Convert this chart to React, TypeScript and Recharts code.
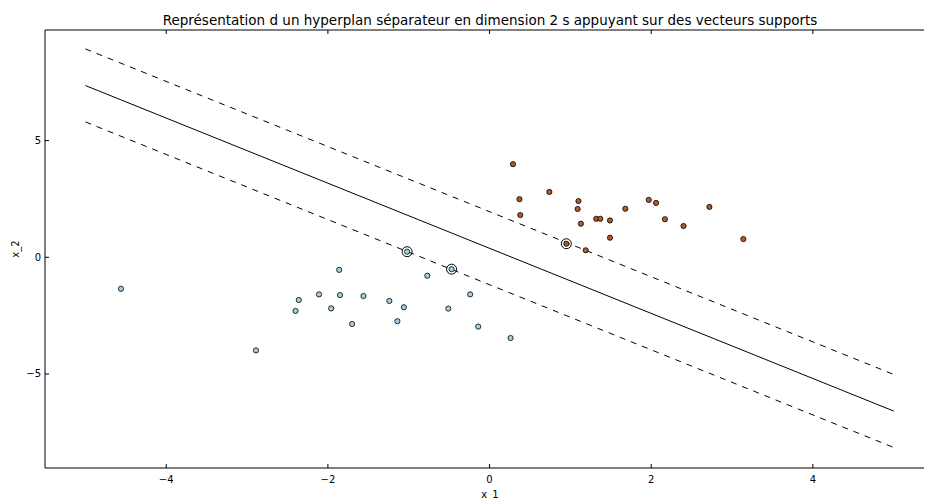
import React from 'react';
import {
  ComposedChart,
  Scatter,
  Line,
  XAxis,
  YAxis,
} from 'recharts';

// classe 0 (bleu)
const classe0X = [-4.56, -2.89, -1.86, -2.36, -2.40, -2.11, -1.85, -1.96, -1.56, -1.70,
  -1.24, -1.06, -1.14, -1.02, -0.47, -0.77, -0.24, -0.51, -0.14, 0.26];
const classe0Y = [-1.35, -3.99, -0.54, -1.83, -2.30, -1.59, -1.62, -2.19, -1.66, -2.86,
  -1.87, -2.14, -2.74, 0.24, -0.51, -0.79, -1.59, -2.20, -2.97, -3.46];

// classe 1 (marron)
const classe1X = [0.29, 0.37, 0.38, 0.74, 1.10, 1.09, 1.13, 0.95, 1.19, 1.32,
  1.37, 1.49, 1.49, 1.68, 1.97, 2.06, 2.17, 2.40, 2.72, 3.14];
const classe1Y = [3.99, 2.49, 1.81, 2.80, 2.41, 2.07, 1.44, 0.58, 0.30, 1.65,
  1.65, 1.58, 0.84, 2.08, 2.46, 2.33, 1.63, 1.34, 2.16, 0.78];

// vecteurs supports
const supportX = [-1.02, -0.47, 0.95];
const supportY = [0.24, -0.51, 0.58];

// hyperplan et marges
const droiteX = [-5, 5];
const hyperplanY = [7.36, -6.59];
const margeHautY = [8.93, -5.02];
const margeBasY = [5.80, -8.15];

const xTicks = [-4, -2, 0, 2, 4];
const yTicks = [-5, 0, 5];

const zip = (xs: number[], ys: number[]) => xs.map((x, i) => ({ x, y: ys[i] }));

const classe0 = zip(classe0X, classe0Y);
const classe1 = zip(classe1X, classe1Y);
const supports = zip(supportX, supportY);
const hyperplan = zip(droiteX, hyperplanY);
const margeHaut = zip(droiteX, margeHautY);
const margeBas = zip(droiteX, margeBasY);

const FONT = 'DejaVu Sans';
const fmt = (v: number) => (v < 0 ? '\u2212' + Math.abs(v) : String(v));

const BottomTick = (props: any) => {
  const { x, y, payload } = props;
  return (
    <g>
      <line x1={x} y1={y} x2={x} y2={y - 4} stroke="#000" />
      <text x={x} y={y + 15} textAnchor="middle" fontSize={10} fontFamily={FONT} fill="#000">
        {fmt(payload.value)}
      </text>
    </g>
  );
};

const TopTick = (props: any) => {
  const { x, y } = props;
  return <line x1={x} y1={y} x2={x} y2={y + 4} stroke="#000" />;
};

const LeftTick = (props: any) => {
  const { x, y, payload } = props;
  return (
    <g>
      <line x1={x} y1={y} x2={x + 4} y2={y} stroke="#000" />
      <text x={x - 4} y={y + 3.5} textAnchor="end" fontSize={10} fontFamily={FONT} fill="#000">
        {fmt(payload.value)}
      </text>
    </g>
  );
};

const point = (color: string) => (props: any) => (
  <circle cx={props.cx} cy={props.cy} r={2.6} fill={color} stroke="#000" strokeWidth={0.8} />
);

const anneau = (props: any) => (
  <circle cx={props.cx} cy={props.cy} r={5} fill="none" stroke="#000" strokeWidth={1} />
);

const App: React.FC = () => {
  return (
    <div style={{ position: 'absolute', left: 0, top: 0, width: 925, height: 499, background: '#fff' }}>
      <ComposedChart
        width={925}
        height={499}
        margin={{ top: 29, right: 1, bottom: 30, left: 44 }}
      >
        <XAxis
          dataKey="x"
          type="number"
          domain={[-5.5, 5.375]}
          ticks={xTicks}
          allowDataOverflow
          height={1}
          tickSize={0}
          tickMargin={0}
          tick={<BottomTick />}
          axisLine={{ stroke: '#000' }}
          tickLine={false}
        />
        <XAxis
          xAxisId="top"
          orientation="top"
          dataKey="x"
          type="number"
          domain={[-5.5, 5.375]}
          ticks={xTicks}
          allowDataOverflow
          height={1}
          tickSize={0}
          tickMargin={0}
          tick={<TopTick />}
          axisLine={{ stroke: '#000' }}
          tickLine={false}
        />
        <YAxis
          dataKey="y"
          type="number"
          domain={[-9.03, 9.74]}
          ticks={yTicks}
          allowDataOverflow
          width={1}
          tickSize={0}
          tickMargin={0}
          tick={<LeftTick />}
          axisLine={{ stroke: '#000' }}
          tickLine={false}
        />
        <Line data={margeHaut} dataKey="y" stroke="#000" strokeWidth={1} strokeDasharray="6 6" dot={false} isAnimationActive={false} />
        <Line data={hyperplan} dataKey="y" stroke="#000" strokeWidth={1} dot={false} isAnimationActive={false} />
        <Line data={margeBas} dataKey="y" stroke="#000" strokeWidth={1} strokeDasharray="6 6" dot={false} isAnimationActive={false} />
        <Scatter data={classe0} dataKey="y" shape={point('#a6cee3')} isAnimationActive={false} />
        <Scatter data={classe1} dataKey="y" shape={point('#b15928')} isAnimationActive={false} />
        <Scatter data={supports} dataKey="y" shape={anneau} isAnimationActive={false} />
        <text x={490} y={25} textAnchor="middle" fontSize={13.5} fontFamily={FONT} fill="#000">
          Représentation d un hyperplan séparateur en dimension 2 s appuyant sur des vecteurs supports
        </text>
        <text x={490} y={498} textAnchor="middle" fontSize={10} fontFamily={FONT} fill="#000">
          x_1
        </text>
        <text
          x={19}
          y={249}
          textAnchor="middle"
          fontSize={10}
          fontFamily={FONT}
          fill="#000"
          transform="rotate(-90 19 249)"
        >
          x_2
        </text>
      </ComposedChart>
    </div>
  );
};

export default App;
